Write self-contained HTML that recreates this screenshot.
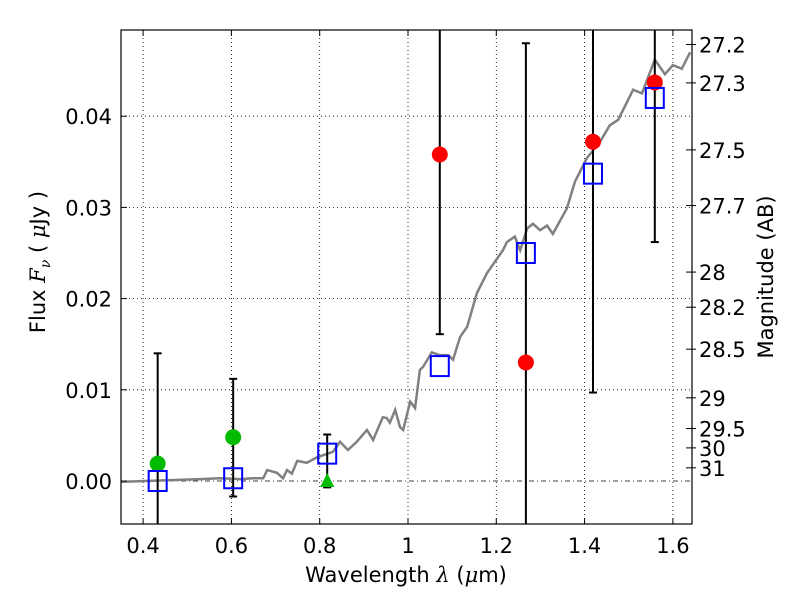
<!DOCTYPE html>
<html><head><meta charset="utf-8"><style>body{margin:0;background:#fff}svg{font-family:"DejaVu Sans","Liberation Sans",sans-serif}</style></head>
<body>
<svg id="c" width="800" height="600" viewBox="0 0 800 600" xmlns="http://www.w3.org/2000/svg"></svg>
<script>
const modelLam=[0.348,0.529,0.574,0.620,0.649,0.672,0.681,0.703,0.717,0.726,0.737,0.749,0.771,0.794,0.830,0.846,0.864,0.884,0.907,0.921,0.943,0.952,0.959,0.971,0.982,0.989,1.005,1.016,1.027,1.034,1.054,1.072,1.091,1.102,1.118,1.134,1.156,1.179,1.215,1.224,1.242,1.254,1.270,1.283,1.299,1.315,1.328,1.360,1.378,1.405,1.435,1.457,1.476,1.510,1.530,1.559,1.582,1.600,1.620,1.639];
const modelFlux=[-0.0001,0.0002,0.0003,0.0002,0.0003,0.0003,0.0012,0.0009,0.0003,0.0012,0.0008,0.0022,0.0020,0.0026,0.0032,0.0043,0.0034,0.0043,0.0056,0.0045,0.0070,0.0069,0.0064,0.0078,0.0059,0.0056,0.0087,0.0080,0.0122,0.0125,0.0141,0.0138,0.0138,0.0133,0.0158,0.0169,0.0206,0.0228,0.0253,0.0262,0.0268,0.0253,0.0277,0.0282,0.0275,0.0280,0.0271,0.0299,0.0328,0.0354,0.0372,0.0390,0.0396,0.0429,0.0425,0.0462,0.0446,0.0456,0.0452,0.0470];
const bandLam=[0.433,0.604,0.817,1.072,1.267,1.419,1.559];
const modelBand=[0.0,0.0003,0.003,0.0126,0.025,0.0337,0.042];
const errLo=[-0.006,-0.0017,-0.0007,0.0161,-0.006,0.0097,0.0262];
const errHi=[0.014,0.0112,0.0051,0.06,0.048,0.06,0.06];
const redLam=[1.072,1.267,1.419,1.559];
const redFlux=[0.0358,0.013,0.0372,0.0437];
const greenLam=[0.433,0.604];
const greenFlux=[0.0019,0.0048];
const triLam=[0.817];
const triFlux=[0.0];
const xTicks=[0.4,0.6,0.8,1,1.2,1.4,1.6];
const xTickLabels=["0.4","0.6","0.8","1","1.2","1.4","1.6"];
const yTicks=[0,0.01,0.02,0.03,0.04];
const yTickLabels=["0.00","0.01","0.02","0.03","0.04"];
const magTicks=[27.2,27.3,27.5,27.7,28,28.2,28.5,29,29.5,30,31];
const magTickLabels=["27.2","27.3","27.5","27.7","28","28.2","28.5","29","29.5","30","31"];

const L=121,R=692,T=30,B=524;
const xs=v=>408+(v-1)*441.5;
const ys=v=>481-v*9120;
const svg=document.getElementById('c');
const NS='http://www.w3.org/2000/svg';
function mk(tag,at,parent){const e=document.createElementNS(NS,tag);for(const k in at)e.setAttribute(k,at[k]);(parent||svg).appendChild(e);return e;}
const clipDefs=mk('defs',{});
const cp=mk('clipPath',{id:'pc'},clipDefs);mk('rect',{x:L,y:T,width:R-L,height:B-T},cp);
const grid=mk('g',{});


xTicks.forEach(t=>{mk('line',{x1:xs(t),x2:xs(t),y1:T,y2:B,stroke:'#000','stroke-width':0.8,'stroke-dasharray':'1,3'},grid);});
yTicks.forEach(t=>{mk('line',{x1:L,x2:R,y1:ys(t),y2:ys(t),stroke:'#000','stroke-width':0.8,'stroke-dasharray':t===0?'5,3,1,3':'1,3'},grid);});
const plot=mk('g',{'clip-path':'url(#pc)'});
const model=mk('polyline',{points:modelLam.map((l,i)=>xs(l)+','+ys(modelFlux[i])).join(' '),fill:'none',stroke:'#808080','stroke-width':2.5},plot);


bandLam.forEach((l,i)=>{
 const x=xs(l);const y1=ys(errHi[i]),y2=ys(errLo[i]);
 const g=mk('g',{},plot);
 
 
 mk('line',{x1:x,x2:x,y1:y1,y2:y2,stroke:'#000','stroke-width':2},g);
 mk('line',{x1:x-4,x2:x+4,y1:y1,y2:y1,stroke:'#000','stroke-width':2},g);
 mk('line',{x1:x-4,x2:x+4,y1:y2,y2:y2,stroke:'#000','stroke-width':2},g);
});
redLam.forEach((l,i)=>{const c=mk('circle',{cx:xs(l),cy:ys(redFlux[i]),r:8,fill:'#f00'},plot);
 
 });
greenLam.forEach((l,i)=>{const c=mk('circle',{cx:xs(l),cy:ys(greenFlux[i]),r:8,fill:'#00bb00'},plot);
 
 });
triLam.forEach((l,i)=>{const x=xs(l),y=ys(triFlux[i]);const p=mk('polygon',{points:`${x},${y-8} ${x-7},${y+6} ${x+7},${y+6}`,fill:'#00bb00'},plot);
 
 });
bandLam.forEach((l,i)=>{const r=mk('rect',{x:xs(l)-9,y:ys(modelBand[i])-10,width:18,height:20,fill:'none',stroke:'#00f','stroke-width':2},plot);
 
 });
const frame=mk('rect',{x:L,y:T,width:R-L,height:B-T,fill:'none',stroke:'#000','stroke-width':1.2});


xTicks.forEach((t,i)=>{const x=xs(t);
 mk('line',{x1:x,x2:x,y1:B,y2:B-6,stroke:'#000'});mk('line',{x1:x,x2:x,y1:T,y2:T+6,stroke:'#000'});
 const tx=mk('text',{x:x,y:B+29,'font-size':21,'text-anchor':'middle'});tx.textContent=xTickLabels[i];
 
 });
yTicks.forEach((t,i)=>{const y=ys(t);
 mk('line',{x1:L,x2:L+6,y1:y,y2:y,stroke:'#000'});
 const tx=mk('text',{x:L-9,y:y+8,'font-size':21,'text-anchor':'end'});tx.textContent=yTickLabels[i];
 
 });
magTicks.forEach((m,i)=>{const y=ys(Math.pow(10,(23.9-m)/2.5));
 mk('line',{x1:R,x2:R-6,y1:y,y2:y,stroke:'#000'});mk('line',{x1:R,x2:R+4,y1:y,y2:y,stroke:'#000'});
 const tx=mk('text',{x:R+7,y:y+8,'font-size':21});tx.textContent=magTickLabels[i];
 
 });
</script>
<div style="position:absolute;left:0;top:0;width:800px;height:600px;pointer-events:none">
<svg width="800" height="600" style="position:absolute;left:0;top:0;font-family:'DejaVu Sans',sans-serif">
<text x="406" y="582" font-size="21" text-anchor="middle">Wavelength  <tspan font-family="DejaVu Serif, serif" font-style="italic">λ</tspan> (<tspan font-family="DejaVu Serif, serif" font-style="italic">μ</tspan>m)</text>
<text transform="translate(45,262) rotate(-90)" font-size="21" text-anchor="middle">Flux  <tspan font-family="DejaVu Serif, serif" font-style="italic">F</tspan><tspan font-family="DejaVu Serif, serif" font-style="italic" font-size="14" dy="5">ν</tspan><tspan dy="-5">  (  </tspan><tspan font-family="DejaVu Serif, serif" font-style="italic">μ</tspan>Jy )</text>
<text transform="translate(773,277) rotate(-90)" font-size="21" text-anchor="middle">Magnitude (AB)</text>
</svg></div>
</body></html>
